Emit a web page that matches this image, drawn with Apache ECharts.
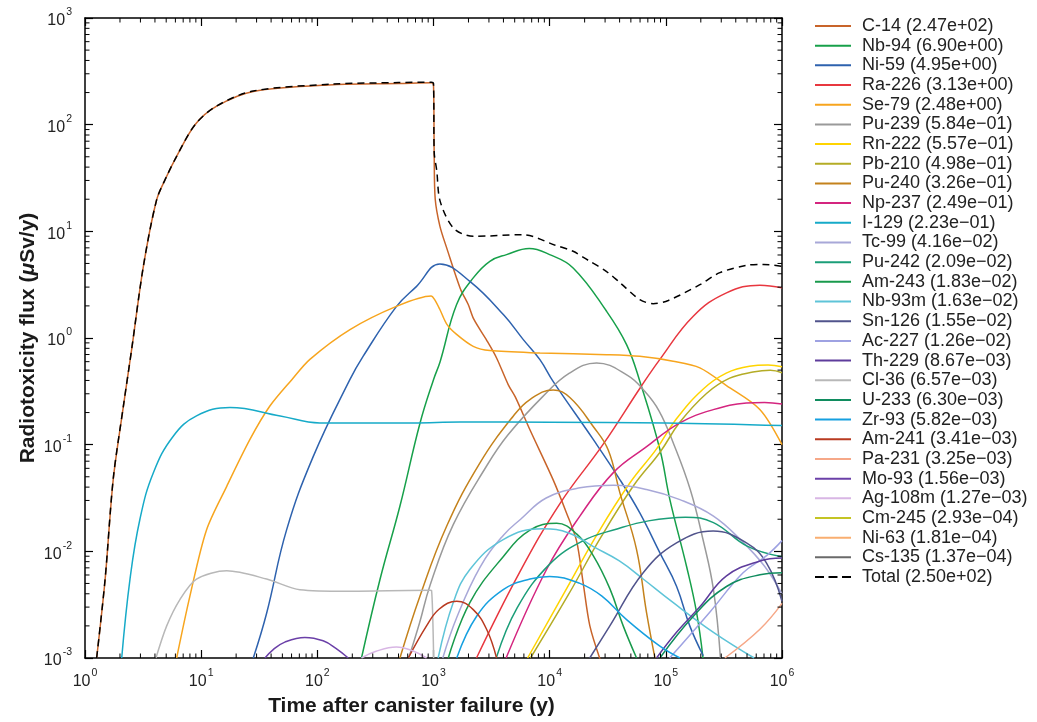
<!DOCTYPE html>
<html>
<head>
<meta charset="utf-8">
<script src="https://cdn.jsdelivr.net/npm/echarts@6/dist/echarts.min.js"></script>
<style>
  html, body { margin: 0; padding: 0; background: #ffffff; }
  #chart { width: 1037px; height: 722px; }
</style>
</head>
<body>
<div id="chart"></div>
<script>
// Radionuclide release: radiotoxicity flux vs. time after canister failure
// Each series is a list of [time (y), flux (uSv/y)] pairs.

const nuclides = ['C-14', 'Nb-94', 'Ni-59', 'Ra-226', 'Se-79', 'Pu-239', 'Rn-222', 'Pb-210', 'Pu-240',
  'Np-237', 'I-129', 'Tc-99', 'Pu-242', 'Am-243', 'Nb-93m', 'Sn-126', 'Ac-227', 'Th-229', 'Cl-36',
  'U-233', 'Zr-93', 'Am-241', 'Pa-231', 'Mo-93', 'Ag-108m', 'Cm-245', 'Ni-63', 'Cs-135', 'Total'];

const peakLabels = ['2.47e+02', '6.90e+00', '4.95e+00', '3.13e+00', '2.48e+00', '5.84e\u221201', '5.57e\u221201',
  '4.98e\u221201', '3.26e\u221201', '2.49e\u221201', '2.23e\u221201', '4.16e\u221202', '2.09e\u221202', '1.83e\u221202',
  '1.63e\u221202', '1.55e\u221202', '1.26e\u221202', '8.67e\u221203', '6.57e\u221203', '6.30e\u221203', '5.82e\u221203',
  '3.41e\u221203', '3.25e\u221203', '1.56e\u221203', '1.27e\u221203', '2.93e\u221204', '1.81e\u221204', '1.37e\u221204',
  '2.50e+02'];

const xTickValues = [1, 10, 100, 1000, 1e4, 1e5, 1e6];
const yTickValues = [1e-3, 1e-2, 1e-1, 1, 10, 100, 1000];

const c14 = [[1.26,0.001],[1.49,0.00545],[1.75,0.0471],[2.14,0.229],[2.52,0.778],[3.18,4.7],[4.14,19.8],[5.05,32.8],
  [6.15,50.5],[8.85,100],[13.6,149],[28.1,205],[137,237],[500,243],[962,247],[1000,234],[1014,50],[1035,20],
  [1135,11.2],[1303,6.92],[1702,2.9],[1991,2.06],[2223,1.5],[2864,0.955],[3491,0.65],[4395,0.366],[5070,0.279],
  [6761,0.138],[10720,0.0468],[13960,0.0229],[17020,0.0126],[19450,0.00501],[22180,0.002],[27540,0.00093]];
const nb94 = [[240,0.001],[347,0.0055],[513,0.0263],[764,0.158],[1000,0.407],[1140,0.6],[1581,2.06],[2198,3.66],
  [3055,5.24],[4256,6.05],[6670,6.9],[10000,6.05],[15920,4.54],[30900,1.78],[45920,0.867],[59700,0.393],
  [88920,0.09],[108100,0.0309],[150700,0.00724],[183700,0.00269],[208900,0.001]];
const ni59 = [[28.1,0.001],[36.6,0.00263],[54.3,0.0158],[92.3,0.0776],[190.5,0.407],[248.3,0.676],[480.8,1.98],
  [715,3.05],[1135,4.95],[2080,3.36],[4046,1.63],[5930,0.966],[8241,0.627],[10740,0.39],[23710,0.112],
  [40180,0.0471],[59700,0.0229],[88920,0.00966],[123600,0.00471],[160700,0.002],[209900,0.00105]];
const ra226 = [[2344,0.001],[5495,0.00631],[12300,0.0282],[28710,0.1],[61660,0.355],[88920,0.631],[172200,1.6],
  [332700,2.65],[645700,3.13],[1e6,2.95]];
const se79 = [[6.15,0.001],[8.0,0.0038],[11.1,0.0158],[16.6,0.0407],[26.3,0.112],[38.9,0.229],[60.3,0.407],
  [86.3,0.631],[191,1.2],[479,1.98],[955,2.48],[1023,2.29],[1135,1.85],[1300,1.35],[1581,1.08],[2198,0.835],
  [3055,0.762],[8241,0.724],[30900,0.698],[59700,0.673],[115600,0.605],[196300,0.525],[332700,0.358],
  [644200,0.214],[1e6,0.1]];
const pu239 = [[612,0.001],[759,0.00214],[933,0.00479],[1479,0.0178],[2864,0.0631],[4365,0.123],[8710,0.282],
  [14790,0.468],[25350,0.584],[46770,0.447],[64570,0.324],[87100,0.209],[117500,0.1],[162200,0.038],
  [208900,0.0129],[257000,0.00437],[295100,0.001]];
const rn222 = [[6457,0.001],[13490,0.00417],[25700,0.0145],[48980,0.0437],[83180,0.0912],[123000,0.174],
  [208900,0.331],[331100,0.468],[524800,0.543],[758600,0.557],[1e6,0.537]];
const pb210 = [[6839,0.001],[14450,0.0039],[27540,0.0135],[52480,0.041],[89130,0.085],[131800,0.162],
  [223900,0.302],[354800,0.42],[562300,0.479],[794300,0.498],[1e6,0.472]];
const pu240 = [[514,0.001],[764,0.0038],[1297,0.0172],[2512,0.0676],[4853,0.185],[6761,0.265],[10720,0.326],
  [15000,0.275],[23710,0.148],[31920,0.0891],[40180,0.0355],[55850,0.0105],[68230,0.00266],[80540,0.001]];
const np237 = [[4217,0.001],[9397,0.00676],[18200,0.0214],[35480,0.055],[66070,0.0933],[132100,0.16],
  [255900,0.213],[494300,0.246],[707900,0.249],[1e6,0.24]];
const i129 = [[2.07,0.001],[2.44,0.0055],[2.97,0.02],[3.87,0.0543],[5.75,0.12],[9.12,0.186],[17.7,0.223],
  [47.9,0.186],[105,0.16],[661,0.16],[1700,0.163],[10000,0.162],[100000,0.16],[1e6,0.151]];
const tc99 = [[1202,0.001],[1585,0.0024],[2512,0.00708],[3981,0.0141],[5623,0.02],[9333,0.0316],[18200,0.0394],
  [35240,0.0416],[68230,0.038],[132100,0.0305],[257000,0.0214],[446700,0.0126],[707900,0.00724],[1e6,0.00398]];
const pu242 = [[3467,0.001],[5248,0.00295],[10000,0.00759],[19500,0.0126],[38020,0.0162],[70790,0.0193],
  [147900,0.0209],[257000,0.0186],[501200,0.0112],[1e6,0.0089]];
const am243 = [[1340,0.001],[2056,0.00331],[3981,0.00891],[6761,0.0158],[11480,0.0183],[17140,0.0145],
  [23710,0.00912],[32960,0.00447],[42950,0.002],[55980,0.001]];
const nb93m = [[1096,0.001],[1479,0.00331],[2056,0.00676],[3981,0.0129],[8710,0.0163],[14790,0.0148],
  [23990,0.011],[39810,0.00813],[63830,0.0055],[112200,0.00339],[257000,0.00174],[575400,0.001]];
const sn126 = [[22130,0.001],[32960,0.002],[63830,0.0063],[123600,0.012],[255300,0.0155],[494500,0.012],
  [736200,0.00776],[1e6,0.0034]];
const ac227 = [[107900,0.001],[238800,0.00269],[462400,0.0063],[736200,0.00912],[1e6,0.0126]];
const th229 = [[83200,0.001],[123600,0.00174],[196300,0.00302],[332700,0.00589],[645700,0.00813],[1e6,0.00867]];
const cl36 = [[4.08,0.001],[5.05,0.002],[6.58,0.00355],[9.12,0.0055],[16.6,0.00657],[36.6,0.0055],[70.8,0.00437],
  [178,0.00423],[933,0.00432],[962,0.0043],[1003,0.001]];
const u233 = [[88920,0.001],[171800,0.00245],[332700,0.00468],[645700,0.00603],[1e6,0.0063]];
const zr93 = [[1585,0.001],[2344,0.00245],[3981,0.00437],[6761,0.0055],[10000,0.00582],[18200,0.00501],
  [28180,0.0038],[45920,0.00229],[88920,0.00129],[132100,0.001]];
const am241 = [[607,0.001],[871,0.002],[1122,0.00288],[1585,0.00341],[2198,0.00284],[2864,0.00186],[3491,0.001]];
const pa231 = [[322100,0.001],[645700,0.00186],[1e6,0.00325]];
const mo93 = [[35.4,0.001],[41.7,0.0012],[52.5,0.00141],[78.2,0.00156],[112.2,0.00145],[144.5,0.00123],[184.5,0.001]];
const ag108m = [[240,0.001],[316,0.00115],[479,0.00127],[661,0.00117],[871,0.001]];
const cm245 = [];   // stays below the plotted range
const ni63 = [];    // stays below the plotted range
const cs135 = [];   // stays below the plotted range
const total = [[1.26,0.001],[1.49,0.0055],[1.75,0.048],[2.14,0.23],[2.52,0.78],[3.18,4.7],[4.14,19.8],[5.05,32.8],
  [6.15,50.5],[8.85,100],[13.6,150],[28.1,207],[137,240],[500,248],[962,250],[1000,244],[1014,55],[1067,37],
  [1140,19.2],[1489,10.7],[2198,8.97],[5920,9.3],[11020,7.45],[15920,6.5],[21480,5.35],[30900,4.2],
  [40270,3.3],[59700,2.29],[77800,2.1],[105000,2.25],[196300,3.16],[291700,4.1],[495500,4.8],[691800,4.9],
  [1e6,4.7]];

const seriesData = [c14, nb94, ni59, ra226, se79, pu239, rn222, pb210, pu240, np237, i129, tc99, pu242, am243,
  nb93m, sn126, ac227, th229, cl36, u233, zr93, am241, pa231, mo93, ag108m, cm245, ni63, cs135, total];

const colors = ['#c8642a', '#17a04a', '#2e62ae', '#e8373f', '#f7a51e', '#9a9a9a', '#ffd400', '#b4ac26', '#c4821c',
  '#d4257f', '#16aac8', '#a8a8d8', '#1b9e78', '#199a4c', '#5ec4d8', '#51548c', '#9ea2e2', '#5e3c9c', '#b8b8b8',
  '#108c5e', '#16a0e0', '#b83a20', '#f6a888', '#6b40a8', '#d8b6e4', '#c4c424', '#f9ae70', '#6a6a6a', '#000000'];

// curves with abrupt steps get a little less smoothing
const sharpCurves = ['C-14', 'Total', 'Cl-36', 'Se-79'];

const FONT = "'Liberation Sans', Arial, Helvetica, sans-serif";

// legend keys: a plain stroke for each nuclide, a dashed stroke for the total
const SOLID_KEY = 'path://M0,0h36v2h-36z';
const DASHED_KEY = 'path://M0,0h9v2h-9z M13.5,0h9v2h-9z M27,0h9v2h-9z';

const chart = echarts.init(document.getElementById('chart'), null, { renderer: 'canvas' });

function powLabel(value) {
  const e = Math.round(Math.log10(value));
  return '{b|10}{e|' + e + '}';
}

const labelRich = {
  b: { fontSize: 16, fontFamily: FONT, color: '#222', lineHeight: 22, verticalAlign: 'bottom' },
  e: { fontSize: 10.5, fontFamily: FONT, color: '#222', lineHeight: 22, verticalAlign: 'top', padding: [0, 0, 0, 1] }
};

const axisCommon = {
  type: 'log',
  logBase: 10,
  axisLine: { show: true, onZero: false, lineStyle: { color: '#000', width: 1.5 } },
  axisTick: { show: true, inside: true, length: 8, lineStyle: { color: '#000', width: 1.2 } },
  splitLine: { show: false },
  minorTick: { show: false },
  minorSplitLine: { show: false }
};

const legendNames = nuclides.map((n, i) => n + ' (' + peakLabels[i] + ')');

const series = legendNames.map((name, i) => {
  const isTotal = nuclides[i] === 'Total';
  return {
    name: name,
    type: 'line',
    data: seriesData[i],
    symbol: 'none',
    smooth: sharpCurves.indexOf(nuclides[i]) >= 0 ? 0.3 : 0.42,
    clip: true,
    z: isTotal ? 5 : 2,
    color: colors[i],
    lineStyle: {
      color: colors[i],
      width: 1.5,
      type: isTotal ? [7, 5] : 'solid'
    },
    emphasis: { disabled: true }
  };
});

chart.setOption({
  animation: false,
  backgroundColor: '#ffffff',
  textStyle: { fontFamily: FONT },
  grid: { left: 85, right: 255, top: 18, bottom: 63, containLabel: false },
  legend: {
    orient: 'vertical',
    left: 815,
    top: 17,
    padding: 0,
    itemWidth: 36,
    itemHeight: 2,
    itemGap: 1.68,
    selectedMode: false,
    data: legendNames.map((n, i) => ({
      name: n,
      icon: nuclides[i] === 'Total' ? DASHED_KEY : SOLID_KEY,
      itemStyle: { color: colors[i] }
    })),
    textStyle: { fontSize: 18, color: '#222', fontFamily: FONT, lineHeight: 18, padding: [0, 0, 0, 6] }
  },
  xAxis: [
    Object.assign({}, axisCommon, {
      position: 'bottom', min: 1, max: 1e6, splitNumber: 6,
      name: 'Time after canister failure (y)',
      nameLocation: 'middle',
      nameMoveOverlap: false,
      nameGap: 38,
      nameTextStyle: { fontSize: 21, fontWeight: 'bold', color: '#1a1a1a', fontFamily: FONT, padding: [0, 44, 0, 0] },
      axisLabel: { show: true, margin: 10, formatter: powLabel, rich: labelRich }
    }),
    Object.assign({}, axisCommon, {
      position: 'top', min: 1, max: 1e6, splitNumber: 6,
      axisLabel: { show: false }
    })
  ],
  yAxis: [
    Object.assign({}, axisCommon, {
      position: 'left', min: 1e-3, max: 1e3, splitNumber: 6,
      name: 'Radiotoxicity flux ({it|\u03bc}Sv/y)',
      nameLocation: 'middle',
      nameMoveOverlap: false,
      nameGap: 46,
      nameTextStyle: {
        fontSize: 21, fontWeight: 'bold', color: '#1a1a1a', fontFamily: FONT,
        rich: { it: { fontSize: 21, fontWeight: 'bold', fontStyle: 'italic', color: '#1a1a1a', fontFamily: FONT } }
      },
      axisLabel: { show: true, margin: 13, formatter: powLabel, rich: labelRich }
    }),
    Object.assign({}, axisCommon, {
      position: 'right', min: 1e-3, max: 1e3, splitNumber: 6,
      axisLabel: { show: false }
    })
  ],
  series: series
});

// Minor log ticks (2..9 within each decade) on all four sides of the frame
(function addMinorTicks() {
  const els = [];
  const yBottom = chart.convertToPixel({ yAxisIndex: 0 }, yTickValues[0]);
  const yTop = chart.convertToPixel({ yAxisIndex: 0 }, yTickValues[yTickValues.length - 1]);
  const xLeft = chart.convertToPixel({ xAxisIndex: 0 }, xTickValues[0]);
  const xRight = chart.convertToPixel({ xAxisIndex: 0 }, xTickValues[xTickValues.length - 1]);
  const len = 4.5;
  const st = { stroke: '#000', lineWidth: 1 };
  for (let d = 0; d < xTickValues.length - 1; d++) {
    for (let k = 2; k <= 9; k++) {
      const px = chart.convertToPixel({ xAxisIndex: 0 }, k * xTickValues[d]);
      els.push({ type: 'line', silent: true, z: 10, shape: { x1: px, y1: yBottom, x2: px, y2: yBottom - len }, style: st });
      els.push({ type: 'line', silent: true, z: 10, shape: { x1: px, y1: yTop, x2: px, y2: yTop + len }, style: st });
    }
  }
  for (let d = 0; d < yTickValues.length - 1; d++) {
    for (let k = 2; k <= 9; k++) {
      const py = chart.convertToPixel({ yAxisIndex: 0 }, k * yTickValues[d]);
      els.push({ type: 'line', silent: true, z: 10, shape: { x1: xLeft, y1: py, x2: xLeft + len, y2: py }, style: st });
      els.push({ type: 'line', silent: true, z: 10, shape: { x1: xRight, y1: py, x2: xRight - len, y2: py }, style: st });
    }
  }
  chart.setOption({ graphic: els });
})();
</script>
</body>
</html>
